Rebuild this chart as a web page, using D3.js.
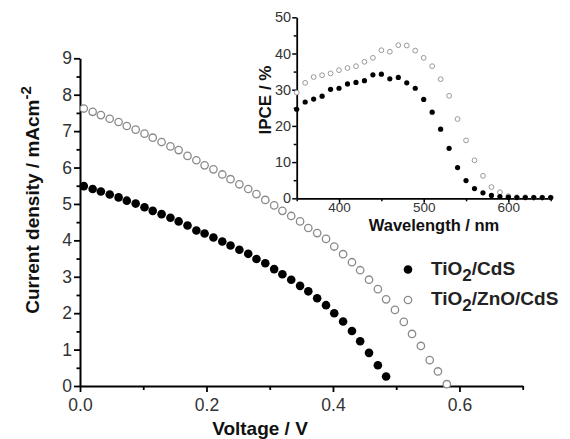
<!DOCTYPE html>
<html><head><meta charset="utf-8">
<script src="https://cdn.jsdelivr.net/npm/d3@7"></script>
<style>
body{margin:0;background:#fff;}
svg{display:block;font-family:"Liberation Sans",Arial,sans-serif;}
</style></head>
<body>
<svg id="c" width="570" height="439"></svg>
<script>
// Main J-V data
const voltageV = [0.006,0.020,0.033,0.047,0.061,0.074,0.088,0.102,0.115,0.129,0.143,0.156,0.170,0.184,0.197,0.211,0.225,0.238,0.252,0.266,0.279,0.293,0.307,0.320,0.334,0.348,0.361,0.375,0.389,0.402,0.416,0.430,0.443,0.457,0.471,0.484,0.498,0.512,0.525,0.539,0.553,0.566,0.580];
const jTiO2CdS = [5.49,5.41,5.34,5.26,5.18,5.09,5.01,4.91,4.81,4.72,4.62,4.52,4.41,4.27,4.19,4.08,3.97,3.86,3.74,3.63,3.49,3.37,3.21,3.07,2.92,2.75,2.60,2.41,2.22,2.00,1.77,1.51,1.23,0.91,0.57,0.26];
const jTiO2ZnOCdS = [7.62,7.53,7.44,7.34,7.25,7.14,7.04,6.93,6.82,6.70,6.58,6.48,6.32,6.20,6.06,5.95,5.81,5.68,5.54,5.41,5.27,5.11,4.96,4.81,4.67,4.52,4.34,4.20,4.04,3.83,3.62,3.40,3.18,2.92,2.66,2.38,2.09,1.76,1.43,1.10,0.71,0.40,0.05];
// Inset IPCE data
const wavelengthNm = [350,360,370,380,390,400,410,420,430,440,450,460,470,480,490,500,510,520,530,540,550,560,570,580,590,600,610,620,630,640,650];
const ipceTiO2CdS = [24.6,26.6,27.4,28.2,30.1,30.4,31.6,32.0,32.5,34.1,34.3,33.0,33.4,31.9,30.4,27.3,23.8,19.1,13.8,8.5,4.9,2.7,1.5,0.8,0.5,0.3,0.2,0.2,0.2,0.2,0.2];
const ipceTiO2ZnOCdS = [29.2,31.9,33.5,34.0,34.5,35.4,36.0,36.5,37.7,38.8,40.9,40.5,42.3,42.2,40.8,38.8,36.5,32.9,28.3,21.9,16.0,10.5,6.2,3.1,1.7,0.6,0.3,0.3,0.2,0.2,0.2];
const mainXTicks = [0.0,0.2,0.4,0.6];
const mainXMinor = [0.1,0.3,0.5,0.7];
const mainYTicks = [0,1,2,3,4,5,6,7,8,9];
const insetXTicks = [400,500,600];
const insetXMinor = [350,450,550,650];
const insetYTicks = [0,10,20,30,40,50];
const seriesNames = ["TiO2/CdS","TiO2/ZnO/CdS"];

const svg = d3.select("#c");
const labelColor = "#333";

// ---- Main plot ----
const x = d3.scaleLinear().domain([0,0.7]).range([80,522.7]);
const y = d3.scaleLinear().domain([0,9]).range([386,58.3]);

function styleAxis(g){
  g.selectAll(".domain").attr("stroke","#000").attr("stroke-width",2);
  g.selectAll(".tick line").attr("stroke","#000").attr("stroke-width",1.8);
  g.selectAll(".tick text").attr("fill",labelColor);
}

// Minor ticks
const yMinor = d3.range(0.5,9,1);
svg.append("g").attr("transform","translate(80,0)")
  .call(d3.axisLeft(y).tickValues(yMinor).tickSize(3.5).tickFormat(""))
  .call(g=>{g.select(".domain").remove();g.selectAll("line").attr("stroke","#000").attr("stroke-width",1.8);});
svg.append("g").attr("transform","translate(0,386)")
  .call(d3.axisBottom(x).tickValues(mainXMinor).tickSize(4).tickFormat(""))
  .call(g=>{g.select(".domain").remove();g.selectAll("line").attr("stroke","#000").attr("stroke-width",1.8);});

svg.append("g").attr("transform","translate(80,0)")
  .call(d3.axisLeft(y).tickValues(mainYTicks).tickSize(6).tickSizeOuter(0).tickPadding(2).tickFormat(d3.format("d")))
  .call(styleAxis)
  .call(g=>g.selectAll("text").attr("font-size",17.5));
svg.append("g").attr("transform","translate(0,386)")
  .call(d3.axisBottom(x).tickValues(mainXTicks).tickSize(6).tickSizeOuter(0).tickPadding(7).tickFormat(d3.format(".1f")))
  .call(styleAxis)
  .call(g=>g.selectAll("text").attr("font-size",17.5));

// series
const d1 = jTiO2CdS.map((j,i)=>({v:voltageV[i],j}));
const d2 = jTiO2ZnOCdS.map((j,i)=>({v:voltageV[i],j}));
svg.append("g").selectAll("circle").data(d2).join("circle")
  .attr("cx",d=>x(d.v)).attr("cy",d=>y(d.j)).attr("r",3.7)
  .attr("fill","#fff").attr("stroke","#8a8a8a").attr("stroke-width",1.3);
svg.append("g").selectAll("circle").data(d1).join("circle")
  .attr("cx",d=>x(d.v)).attr("cy",d=>y(d.j)).attr("r",4.3)
  .attr("fill","#000");

// axis titles
svg.append("text").attr("x",260).attr("y",435).attr("text-anchor","middle")
  .attr("font-size",19).attr("font-weight","bold").attr("fill","#111").text("Voltage / V");
const yt = svg.append("text").attr("transform","translate(39,200) rotate(-90)")
  .attr("text-anchor","middle").attr("font-size",19).attr("font-weight","bold").attr("fill","#111");
yt.append("tspan").text("Current density / mAcm");
yt.append("tspan").attr("dy",-8).attr("font-size",15).text("-2");

// legend
const legend = svg.append("g");
[[269.5,true],[300,false]].forEach(([ly,filled],i)=>{
  legend.append("circle").attr("cx",408).attr("cy",ly).attr("r",filled?4.3:3.7)
    .attr("fill",filled?"#000":"#fff").attr("stroke",filled?"none":"#8a8a8a").attr("stroke-width",1.3);
  const t = legend.append("text").attr("x",431).attr("y",ly+5).attr("font-size",19)
    .attr("font-weight","bold").attr("fill","#222");
  const parts = seriesNames[i].split("2");
  t.append("tspan").text(parts[0]);
  t.append("tspan").attr("dy",6).attr("font-size",17).text("2");
  t.append("tspan").attr("dy",-6).text(parts[1]);
});

// ---- Inset ----
const ix = d3.scaleLinear().domain([350,650]).range([296.7,550.7]);
const iy = d3.scaleLinear().domain([0,50]).range([198.3,17.3]);
svg.append("g").attr("transform","translate(296.7,0)")
  .call(d3.axisLeft(iy).tickValues(d3.range(5,50,10)).tickSize(3).tickFormat(""))
  .call(g=>{g.select(".domain").remove();g.selectAll("line").attr("stroke","#000").attr("stroke-width",1.5);});
svg.append("g").attr("transform","translate(0,198.3)")
  .call(d3.axisBottom(ix).tickValues(insetXMinor).tickSize(3).tickFormat(""))
  .call(g=>{g.select(".domain").remove();g.selectAll("line").attr("stroke","#000").attr("stroke-width",1.5);});
svg.append("g").attr("transform","translate(296.7,0)")
  .call(d3.axisLeft(iy).tickValues(insetYTicks).tickSize(4.5).tickSizeOuter(0).tickPadding(1).tickFormat(d3.format("d")))
  .call(styleAxis)
  .call(g=>{g.select(".domain").attr("stroke-width",1.8);g.selectAll("line").attr("stroke-width",1.5);g.selectAll("text").attr("font-size",14.5);});
svg.append("g").attr("transform","translate(0,198.3)")
  .call(d3.axisBottom(ix).tickValues(insetXTicks).tickSize(4.5).tickSizeOuter(0).tickPadding(0).tickFormat(d3.format("d")))
  .call(styleAxis)
  .call(g=>{g.select(".domain").attr("stroke-width",1.8);g.selectAll("line").attr("stroke-width",1.5);g.selectAll("text").attr("font-size",13.5);});

const i1 = ipceTiO2CdS.map((p,i)=>({w:wavelengthNm[i],p}));
const i2 = ipceTiO2ZnOCdS.map((p,i)=>({w:wavelengthNm[i],p}));
svg.append("g").selectAll("circle").data(i2).join("circle")
  .attr("cx",d=>ix(d.w)).attr("cy",d=>iy(d.p)).attr("r",2.4)
  .attr("fill","#fff").attr("stroke","#999").attr("stroke-width",1);
svg.append("g").selectAll("circle").data(i1).join("circle")
  .attr("cx",d=>ix(d.w)).attr("cy",d=>iy(d.p)).attr("r",2.6)
  .attr("fill","#000");

svg.append("text").attr("x",434).attr("y",231).attr("text-anchor","middle")
  .attr("font-size",16.5).attr("font-weight","bold").attr("fill","#111").text("Wavelength / nm");
svg.append("text").attr("transform","translate(271,100) rotate(-90)").attr("text-anchor","middle")
  .attr("font-size",17).attr("font-weight","bold").attr("fill","#111").text("IPCE / %");
</script>
</body></html>
